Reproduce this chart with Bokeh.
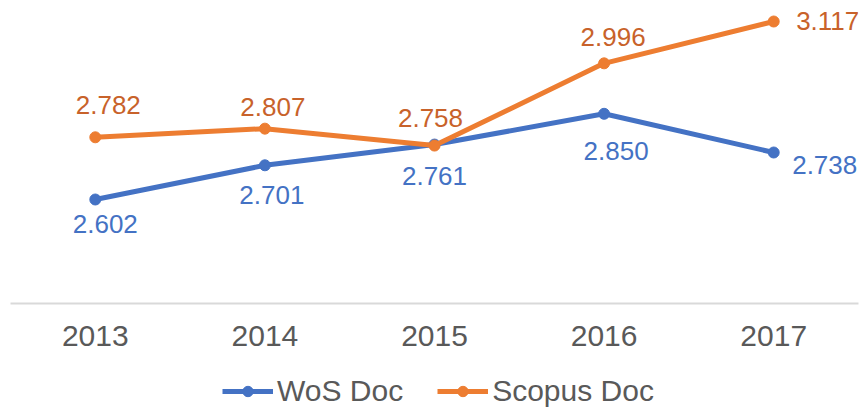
from bokeh.plotting import figure
from bokeh.layouts import column
from bokeh.models import ColumnDataSource, Legend, LegendItem, Range1d, FactorRange
from bokeh.core.properties import value
from bokeh.embed import file_html
from bokeh.resources import INLINE

# ---- data ----
years = ["2013", "2014", "2015", "2016", "2017"]
wos = [2.602, 2.701, 2.761, 2.850, 2.738]
scopus = [2.782, 2.807, 2.758, 2.996, 3.117]
series_names = ["WoS Doc", "Scopus Doc"]

# ---- label placement (screen px offsets, layout only) ----
wos_dx = [10, 7, 0, 12, 51]
wos_dy = [24, 30, 31, 37, 12]
sco_dx = [13, 8, -4, 9, 54]
sco_dy = [-32, -22, -28, -26, -1]

BLUE = "#4472C4"
ORANGE = "#ED7D31"
ORANGE_TXT = "#C8622A"
BLUE_TXT = "#4472C4"
GRAY = "#595959"
FONT = "Liberation Sans"

src_w = ColumnDataSource(dict(x=years, y=wos, t=["%.3f" % v for v in wos], dx=wos_dx, dy=wos_dy))
src_s = ColumnDataSource(dict(x=years, y=scopus, t=["%.3f" % v for v in scopus], dx=sco_dx, dy=sco_dy))

xr = FactorRange(*years, range_padding=0)
yr = Range1d(2.3011, 3.1778)

p = figure(
    width=865, height=362,
    x_range=xr, y_range=yr,
    output_backend="svg", toolbar_location=None,
    y_axis_location=None,
    min_border_left=10, min_border_right=7, min_border_top=0, min_border_bottom=59,
)
p.outline_line_color = None
p.xgrid.visible = False
p.ygrid.visible = False
p.background_fill_color = "white"

p.line("x", "y", source=src_w, line_color=BLUE, line_width=5)
p.scatter("x", "y", source=src_w, size=11, fill_color=BLUE, line_color=BLUE)
p.line("x", "y", source=src_s, line_color=ORANGE, line_width=5)
p.scatter("x", "y", source=src_s, size=11, fill_color=ORANGE, line_color=ORANGE)

p.text("x", "y", text="t", source=src_w, x_offset="dx", y_offset="dy",
       text_align="center", text_baseline="middle", text_color=BLUE_TXT,
       text_font=value(FONT), text_font_size="26px")
p.text("x", "y", text="t", source=src_s, x_offset="dx", y_offset="dy",
       text_align="center", text_baseline="middle", text_color=ORANGE_TXT,
       text_font=value(FONT), text_font_size="26px")

ax = p.xaxis[0]
ax.axis_line_color = "#D9D9D9"
ax.axis_line_width = 2
ax.major_tick_line_color = None
ax.minor_tick_line_color = None
ax.major_tick_out = 0
ax.major_label_standoff = 22
ax.major_label_text_font = FONT
ax.major_label_text_font_size = "30px"
ax.major_label_text_color = GRAY

# ---- legend strip ----
q = figure(
    width=865, height=46,
    x_range=xr, y_range=yr,
    output_backend="svg", toolbar_location=None,
    x_axis_location=None, y_axis_location=None,
    min_border_left=0, min_border_right=0, min_border_top=0, min_border_bottom=0,
)
q.outline_line_color = None
q.xgrid.visible = False
q.ygrid.visible = False
ql1 = q.line("x", "y", source=src_w, line_color=BLUE, line_width=5, visible=False)
qs1 = q.scatter("x", "y", source=src_w, size=11, fill_color=BLUE, line_color=BLUE, visible=False)
ql2 = q.line("x", "y", source=src_s, line_color=ORANGE, line_width=5, visible=False)
qs2 = q.scatter("x", "y", source=src_s, size=11, fill_color=ORANGE, line_color=ORANGE, visible=False)

legend = Legend(
    items=[LegendItem(label=series_names[0], renderers=[ql1, qs1]),
           LegendItem(label=series_names[1], renderers=[ql2, qs2])],
    orientation="horizontal", location=(212, 0),
    label_text_font=FONT, label_text_font_size="30px", label_text_color=GRAY,
    glyph_width=51, glyph_height=26, label_standoff=4, spacing=34,
    padding=0, margin=0, border_line_color=None, background_fill_alpha=0,
)
q.add_layout(legend, "center")

layout = column(p, q, spacing=0)
open("out.html", "w").write(file_html(layout, INLINE))
